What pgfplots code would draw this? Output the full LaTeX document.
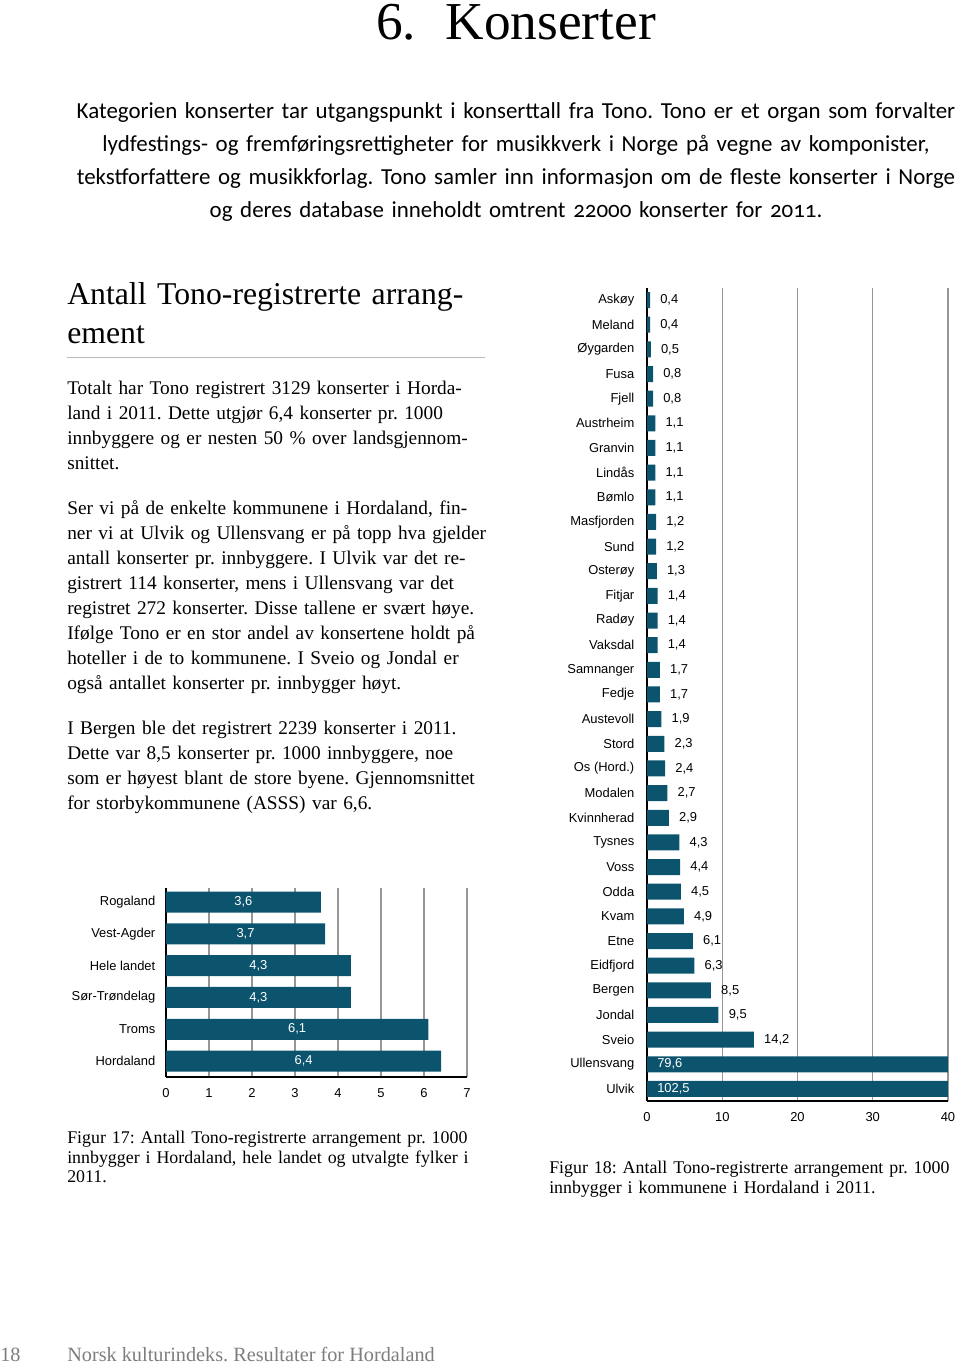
\documentclass[border=0pt]{standalone}
\usepackage{pgfplots}
\pgfplotsset{compat=1.18}
\usepackage{pgfplotstable}
\usepackage{fontspec}
\setmainfont{Liberation Serif}
\newfontfamily\introfont[Numbers=OldStyle]{Carlito}
\newfontfamily\chartfont{Liberation Sans}
\definecolor{tono}{RGB}{12,84,110}
\definecolor{gridgray}{RGB}{150,150,150}
\definecolor{footgray}{RGB}{125,125,125}
\definecolor{rulegray}{RGB}{185,185,185}
\frenchspacing

% Figur 17 (nederst forst)
\pgfplotstableread[col sep=comma]{
name,v
Hordaland,6.4
Troms,6.1
Sør-Trøndelag,4.3
Hele landet,4.3
Vest-Agder,3.7
Rogaland,3.6
}\fylker

% Figur 18 (nederst forst)
\pgfplotstableread[col sep=comma]{
name,v
Ulvik,102.5
Ullensvang,79.6
Sveio,14.2
Jondal,9.5
Bergen,8.5
Eidfjord,6.3
Etne,6.1
Kvam,4.9
Odda,4.5
Voss,4.4
Tysnes,4.3
Kvinnherad,2.9
Modalen,2.7
Os (Hord.),2.4
Stord,2.3
Austevoll,1.9
Fedje,1.7
Samnanger,1.7
Vaksdal,1.4
Radøy,1.4
Fitjar,1.4
Osterøy,1.3
Sund,1.2
Masfjorden,1.2
Bømlo,1.1
Lindås,1.1
Granvin,1.1
Austrheim,1.1
Fjell,0.8
Fusa,0.8
Øygarden,0.5
Meland,0.4
Askøy,0.4
}\kommuner

\newcommand{\chartsize}{\chartfont\fontsize{9.7}{11}\selectfont}
\newcommand{\komma}{\pgfmathprintnumber[fixed,fixed zerofill,precision=1,use comma]{\pgfplotspointmeta}}
\newcommand{\bodysize}{\fontsize{14.5}{18.75}\selectfont}

\pgfplotsset{
  hordabar/.style={
    scale only axis,
    anchor=south west,
    axis x line*=bottom,
    axis y line*=left,
    axis line style={black, line width=0.8pt},
    xmajorgrids,
    major grid style={gridgray, line width=0.9pt},
    tick style={draw=none},
    ticklabel style={font=\chartsize},
    xticklabel style={yshift=-5pt},
    /pgf/number format/assume math mode=true,
  },
}

\begin{document}
\begin{tikzpicture}
\path[use as bounding box] (0,0) rectangle (720pt,1023.75pt);

\begin{scope}[x=0.75pt, y=0.75pt]
% tittel og ingress
\node[anchor=base, inner sep=0, font=\fontsize{40}{44}\selectfont] at (516,{1365-40}) {6.\hspace{0.55em}Konserter};
\node[anchor=base, inner sep=0, text width=712pt, align=center,
      font=\introfont\fontsize{17.2}{24.75}\selectfont] at (516,{1365-119})
  {Kategorien konserter tar utgangspunkt i konserttall fra Tono. Tono er et organ som forvalter\\
   lydfestings- og fremføringsrettigheter for musikkverk i Norge på vegne av komponister,\\
   tekstforfattere og musikkforlag. Tono samler inn informasjon om de fleste konserter i Norge\\
   og deres database inneholdt omtrent 22000 konserter for 2011.};

% venstre spalte
\node[anchor=base west, inner sep=0, text width=360pt, align=left,
      font=\fontsize{23.8}{29.25}\selectfont] at (67,{1365-305})
  {Antall Tono-registrerte arrang-\\ement};
\draw[rulegray, line width=0.75pt] (67,{1365-358}) -- (485,{1365-358});

\node[anchor=base west, inner sep=0, text width=360pt, align=left,
      font=\bodysize] at (67,{1365-395})
  {Totalt har Tono registrert 3129 konserter i Horda-\\
   land i 2011. Dette utgjør 6,4 konserter pr. 1000\\
   innbyggere og er nesten 50 \% over landsgjennom-\\
   snittet.};

\node[anchor=base west, inner sep=0, text width=360pt, align=left,
      font=\bodysize] at (67,{1365-515})
  {Ser vi på de enkelte kommunene i Hordaland, fin-\\
   ner vi at Ulvik og Ullensvang er på topp hva gjelder\\
   antall konserter pr. innbyggere. I Ulvik var det re-\\
   gistrert 114 konserter, mens i Ullensvang var det\\
   registret 272 konserter. Disse tallene er svært høye.\\
   Ifølge Tono er en stor andel av konsertene holdt på\\
   hoteller i de to kommunene. I Sveio og Jondal er\\
   også antallet konserter pr. innbygger høyt.};

\node[anchor=base west, inner sep=0, text width=360pt, align=left,
      font=\bodysize] at (67,{1365-735})
  {I Bergen ble det registrert 2239 konserter i 2011.\\
   Dette var 8,5 konserter pr. 1000 innbyggere, noe\\
   som er høyest blant de store byene. Gjennomsnittet\\
   for storbykommunene (ASSS) var 6,6.};

% figurtekster
\node[anchor=base west, inner sep=0, text width=360pt, align=left,
      font=\fontsize{13.4}{14.6}\selectfont] at (67,{1365-1144})
  {Figur 17: Antall Tono-registrerte arrangement pr. 1000\\
   innbygger i Hordaland, hele landet og utvalgte fylker i\\
   2011.};
\node[anchor=base west, inner sep=0, text width=360pt, align=left,
      font=\fontsize{13.4}{14.6}\selectfont] at (549,{1365-1174})
  {Figur 18: Antall Tono-registrerte arrangement pr. 1000\\
   innbygger i kommunene i Hordaland i 2011.};

% bunntekst
\node[anchor=base west, inner sep=0, text=footgray, font=\fontsize{15.2}{16}\selectfont]
  at (0,{1365-1362}) {18};
\node[anchor=base west, inner sep=0, text=footgray, font=\fontsize{15.2}{16}\selectfont]
  at (67,{1365-1362}) {Norsk kulturindeks. Resultater for Hordaland};
\end{scope}

% Figur 17
\begin{axis}[hordabar,
  at={(124.5pt,216pt)}, width=225.75pt, height=141.75pt,
  xmin=0, xmax=7, xtick={0,...,7},
  ymin=-0.5, ymax=5.44, ytick={0,...,5},
  yticklabels from table={\fylker}{name},
  yticklabel style={xshift=-4.5pt},
]
\addplot[xbar, bar width=15.75pt, fill=tono, draw=none]
  table[x=v, y expr=\coordindex] {\fylker};
\addplot[draw=none, mark=none, point meta=\thisrow{v},
  nodes near coords=\komma,
  nodes near coords style={anchor=center, text=white, font=\chartsize}]
  table[x expr=\thisrow{v}/2, y expr=\coordindex] {\fylker};
\end{axis}

% Figur 18
\begin{axis}[hordabar,
  at={(485.25pt,198pt)}, width=225.75pt, height=609.75pt,
  xmin=0, xmax=40, xtick={0,10,...,40},
  ymin=-0.49, ymax=32.49, ytick={0,...,32},
  yticklabels from table={\kommuner}{name},
  yticklabel style={xshift=-6pt},
]
\addplot[xbar, bar width=12pt, fill=tono, draw=none]
  table[x=v, y expr=\coordindex] {\kommuner};
\addplot[draw=none, mark=none, restrict x to domain=0:40, point meta=x,
  nodes near coords=\komma,
  nodes near coords style={anchor=west, inner sep=0pt, xshift=7.5pt, text=black, font=\chartsize}]
  table[x=v, y expr=\coordindex] {\kommuner};
\addplot[draw=none, mark=none, point meta=explicit,
  nodes near coords=\komma,
  nodes near coords style={anchor=west, inner sep=0pt, xshift=7.5pt, text=white, font=\chartsize}]
  coordinates {(0,1) [79.6] (0,0) [102.5]};
\end{axis}
\end{tikzpicture}
\end{document}
